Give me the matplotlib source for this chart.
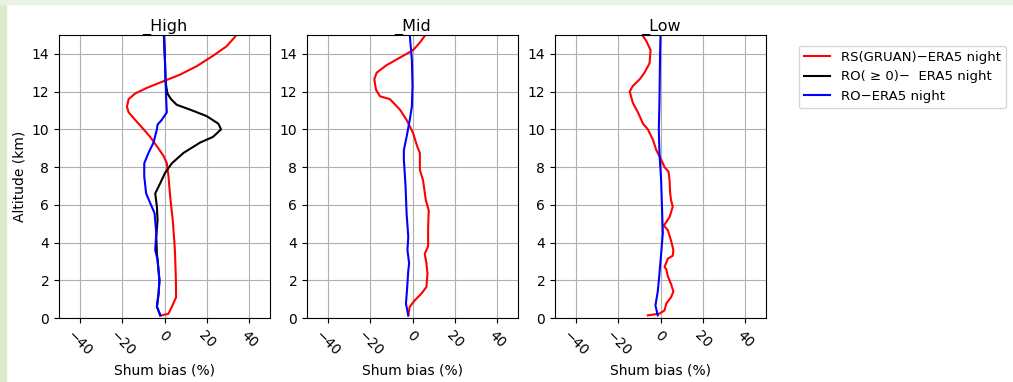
import matplotlib
matplotlib.use("Agg")
import matplotlib.pyplot as plt
from matplotlib.patches import Rectangle

# altitude (km) / bias (%) pairs
# _High
high_rs_alt = [0.14, 0.23, 0.6, 1.1, 2.0, 3.4, 4.0, 5.2, 6.1, 6.8, 7.5, 8.2, 8.6, 9.1, 9.6, 10.0,
               10.5, 10.9, 11.2, 11.6, 11.9, 12.2, 12.55, 12.9, 13.35, 13.9, 14.4, 15.0]
high_rs = [-1.3, 1.9, 3.5, 5.5, 5.4, 5.0, 4.7, 3.9, 3.0, 2.4, 1.9, 1.1, -0.5, -3.6, -6.8, -9.9,
           -13.9, -17.0, -17.8, -17.0, -13.9, -8.3, -0.5, 7.4, 15.3, 23.0, 29.4, 34.2]

high_ro0_alt = [0.14, 0.6, 1.3, 2.0, 3.1, 3.4, 4.3, 5.2, 5.9, 6.6, 7.15, 7.7, 8.2, 8.75, 9.3, 9.6,
                10.0, 10.3, 10.7, 11.05, 11.3, 11.6, 11.9, 12.3, 12.6, 13.7, 15.0]
high_ro0 = [-2.0, -3.6, -2.8, -2.4, -3.3, -3.6, -3.9, -3.3, -3.6, -4.4, -2.0, 0.3, 3.5, 9.0, 16.9, 23.0,
            26.8, 25.5, 20.0, 12.0, 5.8, 3.1, 1.4, 0.8, 0.5, 0.2, -0.3]

high_ro_alt = [0.14, 0.6, 1.3, 2.0, 3.1, 3.6, 4.5, 5.55, 6.1, 6.6, 7.5, 8.2, 8.75, 9.3, 10.0, 10.25,
               10.5, 10.9, 11.6, 12.6, 13.7, 15.0]
high_ro = [-2.0, -3.6, -2.8, -2.4, -3.3, -4.4, -3.9, -4.7, -6.8, -8.7, -9.6, -9.6, -7.6, -5.2, -3.6, -3.3,
           -1.3, 1.1, 0.8, 0.5, 0.2, -0.3]

# _Mid
mid_rs_alt = [0.14, 0.6, 0.94, 1.3, 1.65, 2.35, 2.9, 3.4, 3.8, 4.8, 5.7, 6.25, 7.3, 7.85, 8.75, 9.1,
              9.8, 10.5, 11.05, 11.6, 11.75, 12.1, 12.65, 13.0, 13.4, 13.9, 14.2, 14.6, 15.0]
mid_rs = [-2.0, -1.3, 1.1, 4.3, 6.6, 7.1, 6.6, 5.8, 7.4, 7.4, 7.7, 6.3, 5.0, 3.5, 3.5, 2.2,
          0.3, -2.8, -6.0, -10.7, -15.4, -17.3, -18.1, -17.0, -12.3, -4.4, 0.3, 3.5, 6.1]

mid_ro_alt = [0.14, 0.76, 1.65, 2.5, 2.9, 3.6, 4.3, 5.55, 7.0, 8.4, 8.9, 9.6, 10.5, 11.2, 12.3, 13.7, 15.0]
mid_ro = [-2.0, -3.1, -2.5, -2.0, -1.6, -2.4, -2.0, -2.8, -3.3, -4.1, -4.1, -2.8, -1.3, -0.3, 0.0, -0.3, -1.3]

# _Low
low_rs_alt = [0.14, 0.23, 0.4, 0.76, 1.1, 1.4, 1.8, 2.2, 2.6, 2.7, 3.15, 3.3, 3.6, 4.1, 4.65, 4.9,
              5.35, 5.9, 6.25, 6.6, 7.3, 7.75, 8.0, 8.4, 8.9, 9.45, 10.0, 10.3, 10.9, 11.4, 12.0,
              12.3, 12.65, 13.0, 13.5, 14.2, 14.7, 15.0]
low_rs = [-6.0, -0.5, 1.9, 2.7, 5.0, 6.1, 5.0, 3.5, 2.7, 1.9, 3.5, 5.8, 6.1, 5.0, 3.5, 1.6,
          4.3, 5.8, 5.0, 4.6, 4.3, 3.8, 1.9, 0.3, -2.0, -3.6, -6.0, -8.3, -10.7, -13.1, -14.6,
          -13.1, -9.9, -7.6, -5.2, -4.7, -6.8, -8.7]

low_ro_alt = [0.14, 0.67, 1.4, 2.35, 3.4, 4.5, 5.55, 7.3, 8.75, 10.0, 11.4, 14.05, 15.0]
low_ro = [-1.3, -2.4, -1.3, -0.5, 0.3, 1.1, 0.8, 0.3, -0.5, -0.8, -0.5, -0.2, 0.0]

titles = ["_High", "_Mid", "_Low"]
labels = ["RS(GRUAN)\u2212ERA5 night", "RO( \u2265 0)\u2212  ERA5 night", "RO\u2212ERA5 night"]
xticks = [-40, -20, 0, 20, 40]
yticks = [0, 2, 4, 6, 8, 10, 12, 14]

fig = plt.figure(figsize=(10.13, 3.82), dpi=100)

# pale green frame of the original screenshot
fig.patches.append(Rectangle((0, 0), 6 / 1013, 1, transform=fig.transFigure,
                             color="#dcebc9", zorder=-1))
fig.patches.append(Rectangle((0, 1 - 4 / 382), 1, 4 / 382, transform=fig.transFigure,
                             color="#eaf3e1", zorder=-1))

lefts = [59, 307, 555]
axes = []
for l in lefts:
    axes.append(fig.add_axes([l / 1013, 64 / 382, 211 / 1013, 283 / 382]))

ax = axes[0]
l1, = ax.plot(high_rs, high_rs_alt, color="red", lw=1.5)
l2, = ax.plot(high_ro0, high_ro0_alt, color="black", lw=1.5)
l3, = ax.plot(high_ro, high_ro_alt, color="blue", lw=1.5)
ax.set_ylabel("Altitude (km)", fontsize=10)

axes[1].plot(mid_rs, mid_rs_alt, color="red", lw=1.5)
axes[1].plot(mid_ro, mid_ro_alt, color="blue", lw=1.5)

axes[2].plot(low_rs, low_rs_alt, color="red", lw=1.5)
axes[2].plot(low_ro, low_ro_alt, color="blue", lw=1.5)

for i, ax in enumerate(axes):
    ax.set_xlim(-50, 50)
    ax.set_ylim(0, 15)
    ax.set_xticks(xticks)
    ax.set_yticks(yticks)
    ax.tick_params(axis="x", labelrotation=-45, labelsize=10)
    ax.tick_params(axis="y", labelsize=10)
    ax.grid(True)
    ax.set_title(titles[i], fontsize=11.5, pad=2)
    ax.set_xlabel("Shum bias (%)", fontsize=10)

fig.legend([l1, l2, l3], labels, loc="upper left",
           bbox_to_anchor=(792 / 1013, 1 - 39 / 382), fontsize=9.5)

fig.savefig("out.png", dpi=100)
